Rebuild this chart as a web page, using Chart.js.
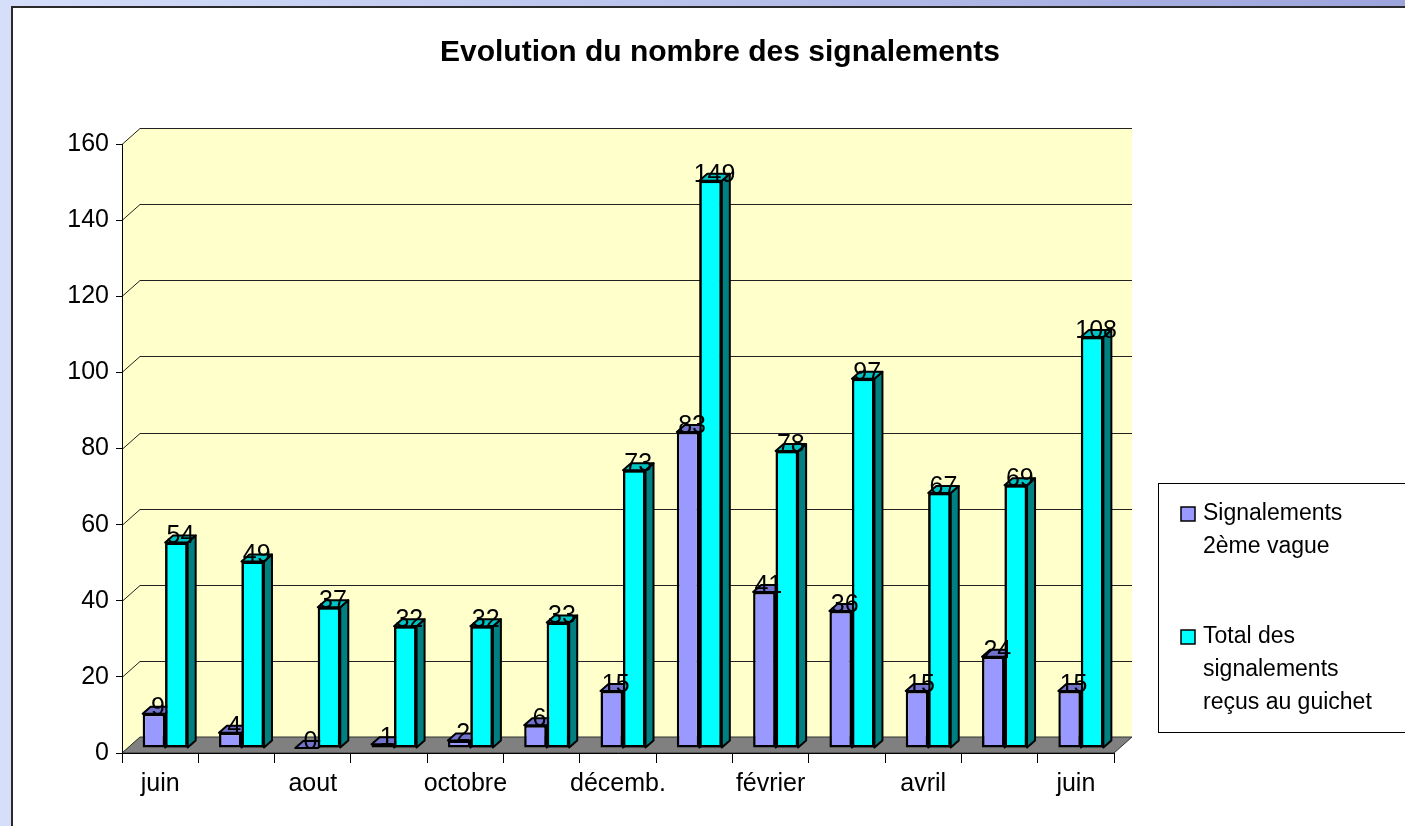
<!DOCTYPE html>
<html lang="fr">
<head>
<meta charset="utf-8">
<title>Evolution du nombre des signalements</title>
<script src="https://cdn.jsdelivr.net/npm/chart.js@4.4.1/dist/chart.umd.min.js"></script>
<style>
  html, body { margin: 0; padding: 0; background: #fff; overflow: hidden; }
  canvas { display: block; }
</style>
</head>
<body>
<canvas id="signalementsChart" width="1405" height="826"></canvas>
<script>
const months = ['juin', 'juillet', 'aout', 'septembre', 'octobre', 'novembre', 'décemb.',
                'janvier', 'février', 'mars', 'avril', 'mai', 'juin'];
const vague2 = [9, 4, 0, 1, 2, 6, 15, 83, 41, 36, 15, 24, 15];
const totalGuichet = [54, 49, 37, 32, 32, 33, 73, 149, 78, 97, 67, 69, 108];
const seriesNames = ['Signalements 2ème vague', 'Total des signalements reçus au guichet'];
const legendLines = [['Signalements', '2ème vague'], ['Total des', 'signalements', 'reçus au guichet']];
const chartTitle = 'Evolution du nombre des signalements';

const FONT = "'Liberation Sans', Arial, sans-serif";
const wall = { dx: 18, dy: -16 };   // depth of the back wall
const shift = { dx: 5, dy: -5 };    // bars sit a bit behind the front axis
const depth = { dx: 8, dy: -7 };    // depth of each bar
const faceColors = [
    { top: '#7373CC', side: '#5C5CB0' },
    { top: '#00C4C4', side: '#008080' }
];

// background, yellow walls, gridlines and grey floor
const backdrop = {
    id: 'backdrop',
    beforeDraw(chart) {
        const { ctx, width, height, chartArea: a, scales: { y } } = chart;
        ctx.save();
        const g = ctx.createLinearGradient(0, 0, width, 0);
        g.addColorStop(0, '#D5DFFA');
        g.addColorStop(1, '#9CA4DC');
        ctx.fillStyle = g;
        ctx.fillRect(0, 0, width, height);
        ctx.fillStyle = '#fff';
        ctx.fillRect(12, 7, width, height);
        ctx.strokeStyle = '#2a2a2a';
        ctx.lineWidth = 2;
        ctx.beginPath();
        ctx.moveTo(12, height); ctx.lineTo(12, 7); ctx.lineTo(width, 7);
        ctx.stroke();

        const y0 = y.getPixelForValue(0);
        const yTop = y.getPixelForValue(y.max);
        ctx.fillStyle = '#FFFFCC';
        ctx.beginPath();
        ctx.moveTo(a.left, y0);
        ctx.lineTo(a.left, yTop);
        ctx.lineTo(a.left + wall.dx, yTop + wall.dy);
        ctx.lineTo(a.right + wall.dx, yTop + wall.dy);
        ctx.lineTo(a.right + wall.dx, y0 + wall.dy);
        ctx.lineTo(a.left + wall.dx, y0 + wall.dy);
        ctx.closePath();
        ctx.fill();

        ctx.strokeStyle = '#222';
        ctx.lineWidth = 1;
        y.ticks.forEach(t => {
            const py = Math.round(y.getPixelForValue(t.value)) + 0.5;
            ctx.beginPath();
            ctx.moveTo(a.left, py);
            ctx.lineTo(a.left + wall.dx, py + wall.dy);
            ctx.lineTo(a.right + wall.dx, py + wall.dy);
            ctx.stroke();
        });

        ctx.fillStyle = '#808080';
        ctx.strokeStyle = '#333';
        ctx.beginPath();
        ctx.moveTo(a.left, y0);
        ctx.lineTo(a.right, y0);
        ctx.lineTo(a.right + wall.dx, y0 + wall.dy);
        ctx.lineTo(a.left + wall.dx, y0 + wall.dy);
        ctx.closePath();
        ctx.fill();
        ctx.stroke();
        ctx.restore();
    }
};

function drawFaces(ctx, meta, c) {
    ctx.lineWidth = 2;
    ctx.strokeStyle = '#000';
    ctx.lineJoin = 'round';
    meta.data.forEach(bar => {
        const { x, y, base, width } = bar.getProps(['x', 'y', 'base', 'width'], true);
        const l = x - width / 2, r = x + width / 2;
        ctx.fillStyle = c.side;
        ctx.beginPath();
        ctx.moveTo(r, y);
        ctx.lineTo(r + depth.dx, y + depth.dy);
        ctx.lineTo(r + depth.dx, base + depth.dy);
        ctx.lineTo(r, base);
        ctx.closePath();
        ctx.fill(); ctx.stroke();
        ctx.fillStyle = c.top;
        ctx.beginPath();
        ctx.moveTo(l, y);
        ctx.lineTo(l + depth.dx, y + depth.dy);
        ctx.lineTo(r + depth.dx, y + depth.dy);
        ctx.lineTo(r, y);
        ctx.closePath();
        ctx.fill(); ctx.stroke();
    });
}

// 3D faces on the bars + value labels
const bars3d = {
    id: 'bars3d',
    beforeDatasetsDraw(chart) {
        chart.ctx.save();
        chart.ctx.translate(shift.dx, shift.dy);
    },
    afterDatasetsDraw(chart) {
        const ctx = chart.ctx;
        chart.data.datasets.forEach((ds, i) => {
            const meta = chart.getDatasetMeta(i);
            // chart.js paints the last dataset first, so repaint it over the faces
            if (i > 0) meta.controller.draw();
            drawFaces(ctx, meta, faceColors[i]);
        });
        ctx.font = `25px ${FONT}`;
        ctx.fillStyle = '#000';
        ctx.textAlign = 'center';
        ctx.textBaseline = 'alphabetic';
        chart.data.datasets.forEach((ds, i) => {
            chart.getDatasetMeta(i).data.forEach((bar, j) => {
                ctx.fillText(String(ds.data[j]), bar.x + 4, bar.y + 1);
            });
        });
        ctx.restore();
    }
};

// title and boxed legend
const decorations = {
    id: 'decorations',
    afterDraw(chart) {
        const ctx = chart.ctx;
        ctx.save();
        ctx.fillStyle = '#000';
        ctx.font = `bold 30px ${FONT}`;
        ctx.textAlign = 'center';
        ctx.textBaseline = 'middle';
        ctx.fillText(chartTitle, 720, 53);

        ctx.fillStyle = '#fff';
        ctx.strokeStyle = '#000';
        ctx.lineWidth = 1;
        ctx.fillRect(1158, 483, 260, 249);
        ctx.strokeRect(1158.5, 483.5, 260, 249);

        ctx.font = `23px ${FONT}`;
        ctx.textAlign = 'left';
        ctx.textBaseline = 'alphabetic';
        const starts = [520, 643];
        chart.data.datasets.forEach((ds, i) => {
            const base = starts[i];
            ctx.fillStyle = ds.backgroundColor;
            ctx.fillRect(1181, base - 13, 14, 14);
            ctx.strokeStyle = '#000';
            ctx.lineWidth = 1.5;
            ctx.strokeRect(1181, base - 13, 14, 14);
            ctx.fillStyle = '#000';
            legendLines[i].forEach((line, k) => ctx.fillText(line, 1203, base + k * 33));
        });
        ctx.restore();
    }
};

const ctx = document.getElementById('signalementsChart').getContext('2d');
const chart = new Chart(ctx, {
    type: 'bar',
    data: {
        labels: months,
        datasets: [{
            label: seriesNames[0],
            data: vague2,
            backgroundColor: '#9999FF',
            borderColor: '#000',
            borderWidth: 2.5,
            borderSkipped: false
        }, {
            label: seriesNames[1],
            data: totalGuichet,
            backgroundColor: '#00FFFF',
            borderColor: '#000',
            borderWidth: 2.5,
            borderSkipped: false
        }]
    },
    options: {
        responsive: false,
        devicePixelRatio: 1,
        animation: false,
        layout: { padding: { left: 0, right: 291, top: 144, bottom: 0 } },
        datasets: { bar: { categoryPercentage: 0.59, barPercentage: 1 } },
        scales: {
            x: {
                afterFit: s => { s.height = 73; },
                grid: { drawOnChartArea: false, tickLength: 10, color: '#000' },
                border: { color: '#000', width: 1 },
                ticks: {
                    autoSkip: false,
                    maxRotation: 0,
                    padding: 6,
                    color: '#000',
                    font: { family: FONT, size: 25 },
                    callback: function(value, index) {
                        return index % 2 === 0 ? this.getLabelForValue(value) : '';
                    }
                }
            },
            y: {
                min: 0,
                max: 160,
                afterFit: s => { s.width = 122; },
                grid: { drawOnChartArea: false, tickLength: 6, color: '#000' },
                border: { color: '#000', width: 1 },
                ticks: {
                    stepSize: 20,
                    padding: 7,
                    color: '#000',
                    font: { family: FONT, size: 25 }
                }
            }
        },
        plugins: {
            legend: { display: false },
            title: { display: false },
            tooltip: { enabled: false }
        }
    },
    plugins: [backdrop, bars3d, decorations]
});
</script>
</body>
</html>
